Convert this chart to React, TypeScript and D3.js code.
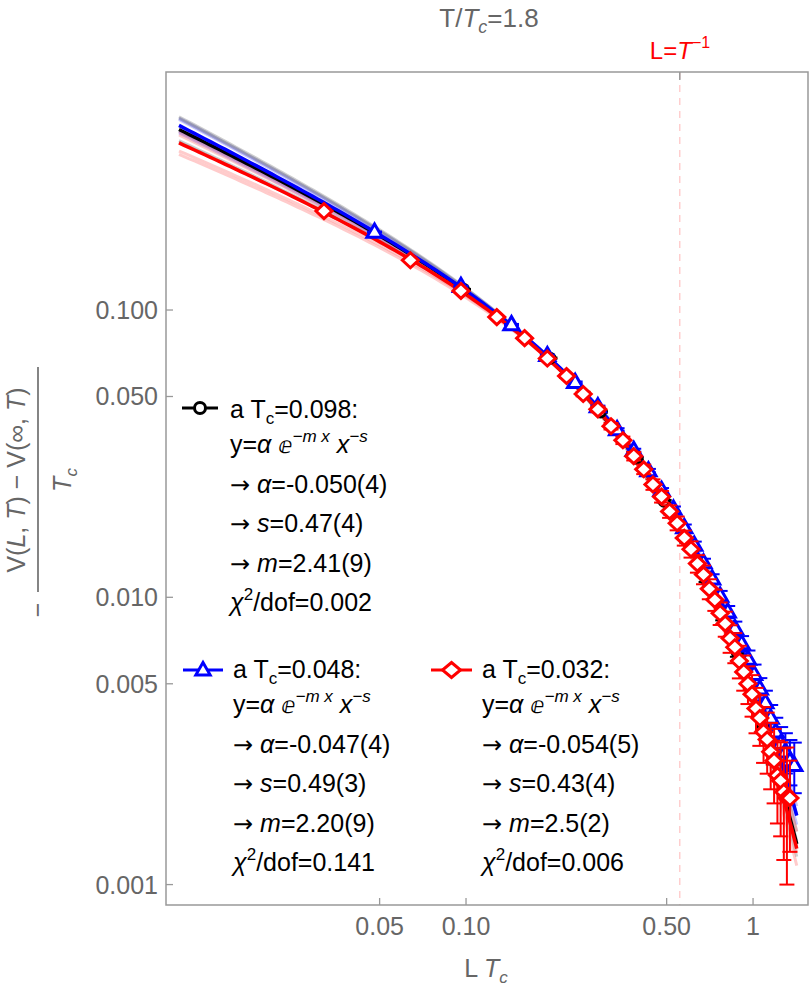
import React from "react";
import { scaleLog, line, range } from "d3";

// ---- data ----
// L*Tc positions of the lattice points
const blackX = [0.098, 0.196, 0.294, 0.392, 0.49, 0.588, 0.686, 0.784, 0.882, 0.98, 1.078, 1.176];
const blackY = [0.118, 0.068, 0.0442, 0.0305, 0.0216, 0.0157, 0.0115, 0.0085, 0.0064, 0.0048, 0.0036, 0.0028];
const blackErr = [0.004, 0.005, 0.006, 0.008, 0.01, 0.013, 0.017, 0.022, 0.03, 0.04, 0.05, 0.065];

const blueX = [
  0.048, 0.096, 0.144, 0.192, 0.24, 0.288, 0.336, 0.384, 0.432, 0.48, 0.528, 0.576, 0.624, 0.672, 0.72,
  0.768, 0.816, 0.864, 0.912, 0.96, 1.008, 1.056, 1.104, 1.152, 1.2, 1.248, 1.296, 1.344, 1.392,
];
const blueY = [
  0.187, 0.121, 0.089, 0.0695, 0.056, 0.0461, 0.0384, 0.0325, 0.0276, 0.0236, 0.0203, 0.0175, 0.0152, 0.0132, 0.0116,
  0.0101, 0.0089, 0.0078, 0.0069, 0.0061, 0.0054, 0.0048, 0.0043, 0.0038, 0.0034, 0.0031, 0.0029, 0.0027, 0.0026,
];
const blueErr = [
  0.003, 0.004, 0.005, 0.006, 0.007, 0.008, 0.01, 0.012, 0.014, 0.017, 0.02, 0.024, 0.028, 0.032, 0.037,
  0.042, 0.048, 0.055, 0.062, 0.07, 0.08, 0.09, 0.1, 0.11, 0.12, 0.14, 0.16, 0.18, 0.2,
];

const redX = [
  0.032, 0.064, 0.096, 0.128, 0.16, 0.192, 0.224, 0.256, 0.288, 0.32, 0.352, 0.384, 0.416, 0.448, 0.48,
  0.512, 0.544, 0.576, 0.608, 0.64, 0.672, 0.704, 0.736, 0.768, 0.8, 0.832, 0.864, 0.896, 0.928, 0.96,
  0.992, 1.024, 1.056, 1.088, 1.12, 1.152, 1.184, 1.216, 1.248, 1.28, 1.312, 1.344,
];
const redY = [
  0.221, 0.149, 0.1165, 0.0945, 0.0798, 0.0678, 0.0589, 0.051, 0.0451, 0.0394, 0.0352, 0.031, 0.0279, 0.0247, 0.0224,
  0.0199, 0.0181, 0.0161, 0.0147, 0.0131, 0.012, 0.0107, 0.0098, 0.0088, 0.0081, 0.0072, 0.0067, 0.006, 0.0055, 0.005,
  0.0046, 0.0041, 0.0038, 0.0034, 0.0032, 0.0029, 0.0027, 0.0024, 0.0023, 0.0021, 0.002, 0.002,
];
const redErr = [
  0.004, 0.005, 0.006, 0.008, 0.01, 0.012, 0.015, 0.018, 0.022, 0.026, 0.03, 0.034, 0.038, 0.042, 0.046,
  0.05, 0.055, 0.06, 0.065, 0.07, 0.075, 0.08, 0.085, 0.09, 0.1, 0.11, 0.12, 0.13, 0.14, 0.15,
  0.165, 0.18, 0.2, 0.22, 0.24, 0.26, 0.29, 0.32, 0.36, 0.42, 0.5, 0.35,
];

// fit results y = alpha e^{-m x} x^{-s}  (black, blue, red)
const fitAlpha = [0.05, 0.047, 0.054];
const fitS = [0.47, 0.49, 0.43];
const fitM = [2.41, 2.2, 2.5];
const sigS = [0.04, 0.03, 0.04];
const sigM = [0.09, 0.09, 0.2];

const legendA = ["0.098", "0.048", "0.032"];
const legendAlpha = ["-0.050(4)", "-0.047(4)", "-0.054(5)"];
const legendS = ["0.47(4)", "0.49(3)", "0.43(4)"];
const legendM = ["2.41(9)", "2.20(9)", "2.5(2)"];
const legendChi = ["0.002", "0.141", "0.006"];

const xTicks = [0.05, 0.1, 0.5, 1];
const xTickLabels = ["0.05", "0.10", "0.50", "1"];
const yTicks = [0.001, 0.005, 0.01, 0.05, 0.1];
const yTickLabels = ["0.001", "0.005", "0.010", "0.050", "0.100"];

const tOverTc = 1.8;

// ---- layout ----
const W = 809;
const H = 988;
const FONT = "'Liberation Sans', Arial, sans-serif";
const GRAY = "#666";
const FRAME = "#999";

const x = scaleLog().domain([0.00901, 1.554]).range([166, 808]);
const y = scaleLog().domain([0.000849, 0.6738]).range([905, 72]);

const colors = ["#000000", "#0000ff", "#ff0000"];
const bandColors = ["#808080", "#6666ff", "#ff7777"];
const bandScale = [0.8, 0.6, 0.65];
const fitGrid = range(0, 121).map((i) => 0.01 * Math.pow(142, i / 120));

const fitFn = (a: number, s: number, m: number) => (v: number) => a * Math.exp(-m * v) * Math.pow(v, -s);

function fitPath(a: number, s: number, m: number) {
  const f = fitFn(a, s, m);
  return line<number>()
    .x((d) => x(d))
    .y((d) => y(f(d)))(fitGrid) as string;
}

function bandPaths(i: number) {
  const x0 = 0.2;
  const out: string[] = [];
  [-1, 1].forEach((ks) =>
    [-1, 1].forEach((km) => {
      const ds = ks * bandScale[i] * sigS[i];
      const dm = km * 0.35 * sigM[i];
      const a2 = fitAlpha[i] * Math.pow(x0, ds) * Math.exp(dm * x0);
      out.push(fitPath(a2, fitS[i] + ds, fitM[i] + dm));
    })
  );
  return out;
}

const circle = (r: number) => `M${-r},0a${r},${r} 0 1,0 ${2 * r},0a${r},${r} 0 1,0 ${-2 * r},0Z`;
const triangle = (h: number) => `M0,${-h}L${h * 0.95},${h * 0.65}L${-h * 0.95},${h * 0.65}Z`;
const diamond = (w: number, h: number) => `M0,${-h}L${w},0L0,${h}L${-w},0Z`;

const markers = [circle(5), triangle(8), diamond(8, 7.5)];
const legendMarkers = [circle(5.5), triangle(7.5), diamond(9, 7.5)];

function Series({ xs, ys, errs, i }: { xs: number[]; ys: number[]; errs: number[]; i: number }) {
  const c = colors[i];
  return (
    <g>
      {xs.map((v, k) => {
        const cx = x(v);
        const y1 = y(ys[k] * (1 + errs[k]));
        const y2 = y(ys[k] * (1 - errs[k]));
        return (
          <g key={"e" + k} stroke={c} strokeWidth={2}>
            <line x1={cx} x2={cx} y1={y1} y2={y2} />
            <line x1={cx - 7.5} x2={cx + 7.5} y1={y1} y2={y1} />
            <line x1={cx - 7.5} x2={cx + 7.5} y1={y2} y2={y2} />
          </g>
        );
      })}
      {xs.map((v, k) => (
        <path
          key={"m" + k}
          d={markers[i]}
          transform={`translate(${x(v)},${y(ys[k])})`}
          fill="#fff"
          stroke={c}
          strokeWidth={3}
        />
      ))}
    </g>
  );
}

const LINE_OFF = [0, 35, 75, 114, 154, 193];
const ARROW = { fontFamily: "'DejaVu Sans'", fontSize: 24 };

function Legend({ i, sx1, sx2, sy, tx, ty }: { i: number; sx1: number; sx2: number; sy: number; tx: number; ty: number }) {
  const c = colors[i];
  const sub = { fontSize: 17 };
  const sup = { fontSize: 17, fontStyle: "italic" as const };
  return (
    <g>
      <line x1={sx1} x2={sx2} y1={sy} y2={sy} stroke={c} strokeWidth={3} />
      <path d={legendMarkers[i]} transform={`translate(${(sx1 + sx2) / 2},${sy})`} fill="#fff" stroke={c} strokeWidth={3} />
      <g fontSize={25} fill="#000">
        <text x={tx} y={ty + LINE_OFF[0]}>
          a T<tspan {...sub} dy={6}>c</tspan>
          <tspan dy={-6}>={legendA[i]}:</tspan>
        </text>
        <text x={tx} y={ty + LINE_OFF[1]}>
          y=<tspan fontStyle="italic">α</tspan> <tspan fontFamily="'DejaVu Sans'" fontSize={23}>ⅇ</tspan>
          <tspan {...sup} dy={-11}>−m x</tspan>
          <tspan dy={11}> </tspan>
          <tspan fontStyle="italic">x</tspan>
          <tspan {...sup} dy={-11}>−s</tspan>
        </text>
        <text x={tx} y={ty + LINE_OFF[2]}>
          <tspan {...ARROW}>→</tspan> <tspan fontStyle="italic">α</tspan>={legendAlpha[i]}
        </text>
        <text x={tx} y={ty + LINE_OFF[3]}>
          <tspan {...ARROW}>→</tspan> <tspan fontStyle="italic">s</tspan>={legendS[i]}
        </text>
        <text x={tx} y={ty + LINE_OFF[4]}>
          <tspan {...ARROW}>→</tspan> <tspan fontStyle="italic">m</tspan>={legendM[i]}
        </text>
        <text x={tx} y={ty + LINE_OFF[5]}>
          <tspan fontStyle="italic">χ</tspan>
          <tspan fontSize={17} dy={-11}>2</tspan>
          <tspan dy={11}>/dof={legendChi[i]}</tspan>
        </text>
      </g>
    </g>
  );
}

export default function App() {
  const lT = 1 / tOverTc;
  const xL = x(lT);
  const bandOrder = [1, 0, 2];
  return (
    <svg
      width={W}
      height={H}
      viewBox={`0 0 ${W} ${H}`}
      style={{ position: "absolute", left: 0, top: 0, background: "#fff" }}
      fontFamily={FONT}
    >
      <rect x={0} y={0} width={W} height={H} fill="#fff" />

      {/* title */}
      <text x={489} y={27} textAnchor="middle" fontSize={26} fill={GRAY}>
        T/<tspan fontStyle="italic">T</tspan>
        <tspan fontStyle="italic" fontSize={18} dy={6}>c</tspan>
        <tspan dy={-6}>=1.8</tspan>
      </text>

      {/* L = 1/T marker */}
      <text x={680} y={59} textAnchor="middle" fontSize={24} fill="#ff0000">
        L=<tspan fontStyle="italic">T</tspan>
        <tspan fontSize={16} dy={-11}>−1</tspan>
      </text>
      <line x1={xL} x2={xL} y1={72} y2={905} stroke="#ffc8c8" strokeWidth={1.3} strokeDasharray="7,6" />
      <line x1={xL} x2={xL} y1={72} y2={80} stroke={FRAME} strokeWidth={1.5} />

      {/* bands */}
      {bandOrder.map((i) =>
        bandPaths(i).map((d, k) => (
          <path key={`b${i}${k}`} d={d} fill="none" stroke={bandColors[i]} strokeOpacity={0.38} strokeWidth={3} />
        ))
      )}
      {/* fit curves */}
      {[0, 1, 2].map((i) => (
        <path key={`f${i}`} d={fitPath(fitAlpha[i], fitS[i], fitM[i])} fill="none" stroke={colors[i]} strokeWidth={3.5} />
      ))}

      <Series xs={blackX} ys={blackY} errs={blackErr} i={0} />
      <Series xs={blueX} ys={blueY} errs={blueErr} i={1} />
      <Series xs={redX} ys={redY} errs={redErr} i={2} />

      {/* frame */}
      <rect x={166} y={72} width={642} height={833} fill="none" stroke={FRAME} strokeWidth={1.5} />

      {/* x ticks */}
      {xTicks.map((t, k) => (
        <g key={"xt" + k}>
          <line x1={x(t)} x2={x(t)} y1={905} y2={898} stroke={FRAME} strokeWidth={1.3} />
          <text x={x(t)} y={935} textAnchor="middle" fontSize={25} fill={GRAY}>
            {xTickLabels[k]}
          </text>
        </g>
      ))}
      {/* y ticks */}
      {yTicks.map((t, k) => (
        <g key={"yt" + k}>
          <line x1={166} x2={173} y1={y(t)} y2={y(t)} stroke={FRAME} strokeWidth={1.3} />
          <text x={158} y={y(t) + 9} textAnchor="end" fontSize={25} fill={GRAY}>
            {yTickLabels[k]}
          </text>
        </g>
      ))}

      {/* x label */}
      <text x={486} y={977} textAnchor="middle" fontSize={25} fill={GRAY}>
        L <tspan fontStyle="italic">T</tspan>
        <tspan fontStyle="italic" fontSize={17} dy={6}>c</tspan>
      </text>

      {/* y label */}
      <g transform="translate(38,480) rotate(-90)" fill={GRAY} fontSize={25}>
        <text x={-130} y={8} textAnchor="middle">−</text>
        <line x1={-112} x2={113} y1={0} y2={0} stroke={GRAY} strokeWidth={1.6} />
        <text x={0} y={-13} textAnchor="middle">
          V(<tspan fontStyle="italic">L</tspan>, <tspan fontStyle="italic">T</tspan>) − V(∞, <tspan fontStyle="italic">T</tspan>)
        </text>
        <text x={0} y={33} textAnchor="middle">
          <tspan fontStyle="italic">T</tspan>
          <tspan fontStyle="italic" fontSize={17} dy={6}>c</tspan>
        </text>
      </g>

      {/* legends */}
      <Legend i={0} sx1={182} sx2={218} sy={408} tx={230} ty={418} />
      <Legend i={1} sx1={183} sx2={223} sy={670} tx={233} ty={678} />
      <Legend i={2} sx1={431} sx2={472} sy={670} tx={482} ty={678} />
    </svg>
  );
}
